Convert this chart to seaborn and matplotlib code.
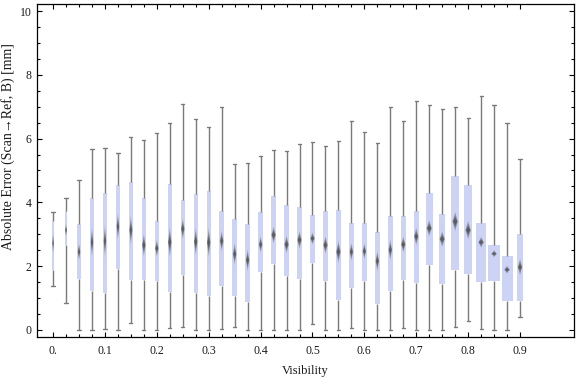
import numpy as np
import pandas as pd
import matplotlib
matplotlib.use("Agg")
import matplotlib.pyplot as plt
from matplotlib.ticker import FixedLocator, MultipleLocator
import seaborn as sns

# five-number summary per visibility bin
visibility = [0.0, 0.025, 0.05, 0.075, 0.1, 0.125, 0.15, 0.175, 0.2, 0.225,
              0.25, 0.275, 0.3, 0.325, 0.35, 0.375, 0.4, 0.425, 0.45, 0.475,
              0.5, 0.525, 0.55, 0.575, 0.6, 0.625, 0.65, 0.675, 0.7, 0.725,
              0.75, 0.775, 0.8, 0.825, 0.85, 0.875, 0.9]
err_min = [1.37, 0.86, 0.00, 0.00, 0.04, 0.00, 0.21, 0.00, 0.00, 0.05,
           0.10, 0.00, 0.00, 0.02, 0.08, 0.00, 0.00, 0.00, 0.00, 0.00,
           0.18, 0.00, 0.00, 0.05, 0.00, 0.00, 0.00, 0.05, 0.00, 0.00,
           0.00, 0.08, 0.28, 0.03, 0.00, 0.00, 0.40]
err_q1 = [1.88, 2.67, 1.61, 1.23, 1.17, 1.92, 1.57, 1.57, 1.54, 1.20,
          1.71, 1.17, 1.05, 1.39, 1.05, 0.89, 1.83, 2.08, 1.70, 1.59,
          2.09, 1.55, 0.95, 1.33, 1.55, 0.80, 1.21, 1.58, 1.48, 2.05,
          1.45, 1.89, 1.77, 1.49, 1.52, 0.92, 0.92]
err_median = [2.72, 3.13, 2.45, 2.75, 2.79, 3.24, 3.13, 2.66, 2.56, 2.75,
              3.17, 2.77, 2.74, 2.79, 2.38, 2.19, 2.68, 2.98, 2.68, 2.82,
              2.87, 2.66, 2.45, 2.45, 2.47, 2.16, 2.51, 2.68, 2.93, 3.19,
              2.85, 3.40, 3.13, 2.75, 2.39, 1.89, 1.97]
err_q3 = [3.42, 3.73, 3.31, 4.13, 4.28, 4.53, 4.63, 4.14, 3.42, 4.58,
          4.07, 4.26, 4.36, 3.73, 3.48, 3.32, 3.69, 4.20, 3.92, 3.86,
          3.61, 3.73, 3.76, 3.35, 3.34, 3.07, 3.57, 3.57, 3.73, 4.29,
          3.64, 4.83, 4.55, 3.34, 2.66, 2.32, 3.01]
err_max = [3.69, 4.13, 4.69, 5.66, 5.69, 5.54, 6.04, 5.95, 6.17, 6.48,
           7.07, 6.60, 6.35, 6.98, 5.19, 5.22, 5.44, 5.63, 5.60, 5.82,
           5.90, 5.76, 5.91, 6.54, 6.20, 5.85, 6.98, 6.54, 7.17, 7.05,
           6.92, 6.98, 6.66, 7.32, 7.04, 6.48, 5.35]
# relative sample size of each bin (box width scales with it)
group_size = [1.5, 2, 3, 3, 3, 3, 3.5, 4, 4, 4,
              4, 4, 4, 4, 4, 4, 4, 5, 5, 5,
              5, 5, 5, 4, 4, 4, 4, 5, 5, 6,
              6, 7, 7, 9, 11, 10, 5]
x_ticks = [0.0, 0.1, 0.2, 0.3, 0.4, 0.5, 0.6, 0.7, 0.8, 0.9]
x_tick_labels = ["0.", "0.1", "0.2", "0.3", "0.4", "0.5", "0.6", "0.7", "0.8", "0.9"]

box_color = "#ccd3f5"
line_color = "#7a7a7a"
diamond_color = "#555555"

sns.set_theme(style="ticks")
plt.rcParams["font.family"] = ["Liberation Serif", "DejaVu Serif"]

fig = plt.figure(figsize=(5.76, 3.77), dpi=100)
ax = fig.add_axes([0.0642, 0.107, 0.9323, 0.8824])

xlim = (-0.031, 1.004)
px = (xlim[1] - xlim[0]) / (0.9323 * 576)  # data units per pixel

for i, v in enumerate(visibility):
    df = pd.DataFrame({
        "visibility": [v] * 5,
        "error": [err_min[i], err_q1[i], err_median[i], err_q3[i], err_max[i]],
    })
    sns.boxplot(data=df, x="visibility", y="error", orient="x", native_scale=True,
                whis=(0, 100), width=1.1 * group_size[i] * px, color=box_color,
                saturation=1, linecolor=line_color, linewidth=1.0,
                showfliers=False, boxprops=dict(edgecolor="none", linewidth=0),
                medianprops=dict(linewidth=0), capwidths=3.2 * px, ax=ax)

# median marker: soft diamond, taller for small / spread-out bins
for i, v in enumerate(visibility):
    hw = min(0.45 * group_size[i], 2.8) * px
    hh = 0.28 * (err_q3[i] - err_q1[i]) / np.sqrt(group_size[i])
    hh = max(hh, 0.11)
    m = err_median[i]
    for frac, alpha in [(1.0, 0.3), (0.75, 0.4), (0.5, 0.55), (0.3, 0.7)]:
        w = hw * (0.55 + 0.45 * frac)
        ax.fill([v - w, v, v + w, v], [m, m + hh * frac, m, m - hh * frac],
                color=diamond_color, alpha=alpha, lw=0, zorder=5)

ax.set_xlim(*xlim)
ax.set_ylim(-0.21, 10.22)
ax.set_xticks(x_ticks)
ax.set_xticklabels(x_tick_labels)
ax.xaxis.set_minor_locator(FixedLocator(visibility))
ax.set_yticks([0, 2, 4, 6, 8, 10])
ax.set_yticklabels(["0", "2", "4", "6", "8", "10"])
ax.yaxis.set_minor_locator(MultipleLocator(0.5))

ax.tick_params(which="both", direction="in", top=True, right=True,
               color="black", width=0.8, labelsize=8.5, labelcolor="#1a1a1a")
ax.tick_params(which="major", length=3.4)
ax.tick_params(which="minor", length=2.3)
ax.tick_params(axis="x", pad=6)
ax.tick_params(axis="y", pad=4)
for s in ax.spines.values():
    s.set_color("black")
    s.set_linewidth(0.9)

ax.set_xlabel("Visibility", fontsize=9, color="#1a1a1a", labelpad=6)
ax.set_ylabel("Absolute Error (Scan\u2192Ref, B) [mm]", fontsize=10, color="#1a1a1a")
ax.yaxis.set_label_coords(-0.041, 0.571)

fig.savefig("out.png", dpi=100)
